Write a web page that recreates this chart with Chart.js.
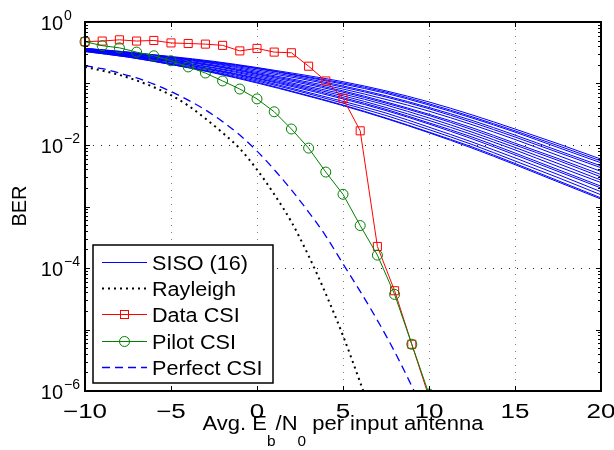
<!DOCTYPE html>
<html>
<head>
<meta charset="utf-8">
<script src="https://cdn.jsdelivr.net/npm/chart.js@4.4.0/dist/chart.umd.min.js"></script>
<style>
  html, body { margin: 0; padding: 0; background: #fff; }
  #wrap { width: 614px; height: 450px; }
</style>
</head>
<body>
<div id="wrap"><canvas id="berChart" width="614" height="450"></canvas></div>
<script>
// Eb/N0 points (dB)
const snrSiso = [-10, -7.5, -5, -2.5, 0, 2.5, 5, 7.5, 10, 12.5, 15, 17.5, 20];
const snrInt = [-10, -9, -8, -7, -6, -5, -4, -3, -2, -1, 0, 1, 2, 3, 4, 5, 6, 7, 8, 9, 10];
const snrRayleigh = [-10, -9, -8, -7, -6, -5, -4, -3, -2, -1, 0, 1, 2, 3, 4, 5, 6, 7];

// 16 single antenna links, BER
const sisoBer = [
  [0.372, 0.324, 0.275, 0.229, 0.182, 0.141, 0.107, 7.59e-2, 5.01e-2, 3.09e-2, 1.82e-2, 1.05e-2, 5.89e-3],
  [0.372, 0.324, 0.269, 0.224, 0.178, 0.135, 0.102, 7.24e-2, 4.68e-2, 2.88e-2, 1.70e-2, 9.77e-3, 5.50e-3],
  [0.372, 0.316, 0.269, 0.219, 0.174, 0.132, 9.77e-2, 6.92e-2, 4.47e-2, 2.75e-2, 1.62e-2, 9.12e-3, 5.13e-3],
  [0.363, 0.316, 0.263, 0.214, 0.166, 0.126, 9.12e-2, 6.31e-2, 4.07e-2, 2.51e-2, 1.45e-2, 8.13e-3, 4.57e-3],
  [0.363, 0.309, 0.257, 0.209, 0.158, 0.120, 8.71e-2, 6.03e-2, 3.89e-2, 2.34e-2, 1.35e-2, 7.59e-3, 4.27e-3],
  [0.355, 0.309, 0.251, 0.200, 0.151, 0.112, 8.13e-2, 5.50e-2, 3.55e-2, 2.14e-2, 1.23e-2, 6.76e-3, 3.72e-3],
  [0.355, 0.302, 0.245, 0.195, 0.145, 0.107, 7.59e-2, 5.01e-2, 3.16e-2, 1.91e-2, 1.07e-2, 6.03e-3, 3.31e-3],
  [0.355, 0.295, 0.240, 0.191, 0.141, 0.102, 7.24e-2, 4.79e-2, 3.02e-2, 1.78e-2, 1.00e-2, 5.62e-3, 3.02e-3],
  [0.347, 0.295, 0.234, 0.182, 0.135, 9.55e-2, 6.76e-2, 4.47e-2, 2.75e-2, 1.62e-2, 9.12e-3, 5.01e-3, 2.69e-3],
  [0.347, 0.288, 0.229, 0.178, 0.129, 9.12e-2, 6.31e-2, 4.07e-2, 2.51e-2, 1.48e-2, 8.32e-3, 4.47e-3, 2.45e-3],
  [0.347, 0.288, 0.224, 0.170, 0.123, 8.71e-2, 5.89e-2, 3.80e-2, 2.29e-2, 1.35e-2, 7.41e-3, 3.98e-3, 2.14e-3],
  [0.339, 0.282, 0.224, 0.166, 0.120, 8.32e-2, 5.62e-2, 3.63e-2, 2.19e-2, 1.26e-2, 6.92e-3, 3.72e-3, 2.00e-3],
  [0.339, 0.282, 0.214, 0.162, 0.115, 7.76e-2, 5.13e-2, 3.31e-2, 1.95e-2, 1.12e-2, 6.17e-3, 3.31e-3, 1.74e-3],
  [0.339, 0.275, 0.209, 0.155, 0.110, 7.41e-2, 4.79e-2, 3.02e-2, 1.78e-2, 1.02e-2, 5.50e-3, 2.95e-3, 1.55e-3],
  [0.331, 0.269, 0.204, 0.151, 0.105, 6.92e-2, 4.47e-2, 2.75e-2, 1.62e-2, 9.33e-3, 5.01e-3, 2.63e-3, 1.38e-3],
  [0.331, 0.269, 0.204, 0.148, 0.102, 6.76e-2, 4.37e-2, 2.69e-2, 1.58e-2, 8.91e-3, 4.79e-3, 2.51e-3, 1.32e-3]
];
const rayleighBer = [0.186, 0.162, 0.138, 0.112, 8.71e-2, 6.46e-2, 4.37e-2, 2.69e-2, 1.58e-2, 8.71e-3,
  3.98e-3, 1.58e-3, 5.62e-4, 1.58e-4, 3.80e-5, 7.94e-6, 1.38e-6, 2.24e-7];
const dataCsiBer = [0.479, 0.490, 0.513, 0.490, 0.501, 0.457, 0.447, 0.437, 0.417, 0.339,
  0.372, 0.324, 0.316, 0.191, 0.110, 5.75e-2, 1.70e-2, 2.24e-4, 4.27e-5, 5.75e-6, 7.94e-7];
const pilotCsiBer = [0.479, 0.412, 0.380, 0.324, 0.282, 0.234, 0.186, 0.148, 0.110, 8.13e-2,
  5.62e-2, 3.47e-2, 1.82e-2, 8.91e-3, 3.63e-3, 1.58e-3, 4.90e-4, 1.62e-4, 3.72e-5, 5.75e-6, 8.91e-7];
const perfectCsiBer = [0.195, 0.174, 0.148, 0.123, 9.77e-2, 7.41e-2, 5.37e-2, 3.72e-2, 2.40e-2, 1.45e-2,
  7.94e-3, 3.98e-3, 1.86e-3, 8.13e-4, 3.31e-4, 1.17e-4, 4.17e-5, 1.41e-5, 4.37e-6, 1.20e-6, 3.16e-7];

const xTicks = [-10, -5, 0, 5, 10, 15, 20];
const xTickLabels = ['\u221210', '\u22125', '0', '5', '10', '15', '20'];
const yTicks = [1, 1e-2, 1e-4, 1e-6];
const yTickExps = ['0', '\u22122', '\u22124', '\u22126'];
const legendLabels = ['SISO (16)', 'Rayleigh', 'Data CSI', 'Pilot CSI', 'Perfect CSI'];

const FONT = '"Liberation Sans", Arial, Helvetica, sans-serif';
const toPts = (xs, ys) => xs.map((x, i) => ({ x: x, y: ys[i] }));
const clip = { left: 8, top: 0, right: 0, bottom: 0 };

const datasets = [];
sisoBer.forEach(row => {
  datasets.push({
    data: toPts(snrSiso, row), borderColor: '#0000ff', borderWidth: 1,
    cubicInterpolationMode: 'monotone', pointRadius: 0, order: 5, clip: clip
  });
});
datasets.push({
  data: toPts(snrRayleigh, rayleighBer), borderColor: '#000', borderWidth: 2,
  borderDash: [2, 4], cubicInterpolationMode: 'monotone', pointRadius: 0, order: 4, clip: clip
});
datasets.push({
  data: toPts(snrInt, dataCsiBer), borderColor: '#ff0000', borderWidth: 1,
  pointStyle: 'rect', pointRadius: 5.7, pointBorderColor: '#ff0000',
  pointBackgroundColor: 'rgba(0,0,0,0)', pointBorderWidth: 1, order: 3, clip: clip
});
datasets.push({
  data: toPts(snrInt, pilotCsiBer), borderColor: '#008000', borderWidth: 1,
  pointStyle: 'circle', pointRadius: 5, pointBorderColor: '#008000',
  pointBackgroundColor: 'rgba(0,0,0,0)', pointBorderWidth: 1, order: 2, clip: clip
});
datasets.push({
  data: toPts(snrInt, perfectCsiBer), borderColor: '#0000ff', borderWidth: 1.3,
  borderDash: [8, 5], cubicInterpolationMode: 'monotone', pointRadius: 0, order: 1, clip: clip
});

function wideText(ctx, str, x, y, sx, align) {
  ctx.save();
  ctx.translate(x, y);
  ctx.scale(sx, 1);
  ctx.textAlign = align;
  ctx.fillText(str, 0, 0);
  ctx.restore();
}

const frame = {
  id: 'frame',
  beforeDatasetsDraw(chart) {
    const { ctx, chartArea: a, scales: { x, y } } = chart;
    ctx.save();
    ctx.lineWidth = 1;
    ctx.strokeStyle = '#808080';
    ctx.setLineDash([1, 6]);
    xTicks.slice(1, -1).forEach(v => {
      const px = Math.round(x.getPixelForValue(v)) + 0.5;
      ctx.beginPath(); ctx.moveTo(px, a.top); ctx.lineTo(px, a.bottom); ctx.stroke();
    });
    ctx.strokeStyle = '#202020';
    ctx.setLineDash([1, 7]);
    yTicks.slice(1, -1).forEach(v => {
      const py = Math.round(y.getPixelForValue(v)) + 0.5;
      ctx.beginPath(); ctx.moveTo(a.left, py); ctx.lineTo(a.right, py); ctx.stroke();
    });
    ctx.restore();
  },
  afterDatasetsDraw(chart) {
    const { ctx, chartArea: a, scales: { x, y } } = chart;
    ctx.save();
    ctx.strokeStyle = '#000';
    ctx.fillStyle = '#000';

    // axis ticks
    ctx.lineWidth = 1;
    ctx.beginPath();
    xTicks.forEach(v => {
      const px = Math.round(x.getPixelForValue(v)) + 0.5;
      ctx.moveTo(px, a.bottom); ctx.lineTo(px, a.bottom - 5);
      ctx.moveTo(px, a.top); ctx.lineTo(px, a.top + 5);
    });
    for (let d = -6; d <= 0; d++) {
      for (let m = 1; m <= 9; m++) {
        const v = m * Math.pow(10, d);
        if (v > 1) break;
        const py = Math.round(y.getPixelForValue(v)) + 0.5;
        const len = m === 1 ? 5 : 3;
        ctx.moveTo(a.left, py); ctx.lineTo(a.left + len, py);
        ctx.moveTo(a.right, py); ctx.lineTo(a.right - len, py);
      }
    }
    ctx.stroke();

    // axis box
    ctx.lineWidth = 2;
    ctx.strokeRect(a.left, a.top, a.right - a.left, a.bottom - a.top);

    // x tick labels
    ctx.font = '20px ' + FONT;
    ctx.textBaseline = 'alphabetic';
    xTicks.forEach((v, i) => {
      wideText(ctx, xTickLabels[i], x.getPixelForValue(v), 418, 1.3, 'center');
    });

    // y tick labels, 10 with superscript exponent
    yTicks.forEach((v, i) => {
      const py = y.getPixelForValue(v);
      ctx.font = '20px ' + FONT;
      ctx.textAlign = 'right';
      ctx.fillText('10', 63, py + 8);
      ctx.font = '14px ' + FONT;
      ctx.textAlign = 'left';
      ctx.fillText(yTickExps[i], 64, py - 2);
    });

    // y title
    ctx.save();
    ctx.translate(26, (a.top + a.bottom) / 2 - 0.5);
    ctx.rotate(-Math.PI / 2);
    ctx.font = '20px ' + FONT;
    ctx.textAlign = 'center';
    ctx.fillText('BER', 0, 0);
    ctx.restore();

    // x title with subscripts
    const parts = [['Avg. E', 0], ['b', 1], ['/N', 0], ['0', 1], [' per input antenna', 0]];
    const sx = 1.1;
    let total = 0;
    parts.forEach(p => {
      ctx.font = (p[1] ? '14px ' : '20px ') + FONT;
      total += ctx.measureText(p[0]).width * sx;
    });
    let cx = (a.left + a.right) / 2 - total / 2;
    parts.forEach(p => {
      ctx.font = (p[1] ? '14px ' : '20px ') + FONT;
      wideText(ctx, p[0], cx, p[1] ? 446 : 430, sx, 'left');
      cx += ctx.measureText(p[0]).width * sx;
    });

    // legend
    const lx = 93, ly = 245, lw = 180, lh = 138;
    ctx.fillStyle = '#fff';
    ctx.fillRect(lx, ly, lw, lh);
    ctx.lineWidth = 1.5;
    ctx.strokeStyle = '#000';
    ctx.strokeRect(lx, ly, lw, lh);
    const styles = [
      { c: '#0000ff', w: 1, dash: [] },
      { c: '#000', w: 2, dash: [2, 4] },
      { c: '#ff0000', w: 1, dash: [], mark: 'rect' },
      { c: '#008000', w: 1, dash: [], mark: 'circle' },
      { c: '#0000ff', w: 1.3, dash: [8, 5] }
    ];
    legendLabels.forEach((lab, i) => {
      const ry = Math.round(262 + i * 26.2) + 0.5;
      const s = styles[i];
      ctx.strokeStyle = s.c;
      ctx.lineWidth = s.w;
      ctx.setLineDash(s.dash);
      ctx.beginPath(); ctx.moveTo(102, ry); ctx.lineTo(147, ry); ctx.stroke();
      ctx.setLineDash([]);
      if (s.mark === 'rect') {
        ctx.strokeRect(120.5, ry - 4, 8, 8);
      } else if (s.mark === 'circle') {
        ctx.beginPath(); ctx.arc(124.5, ry, 5, 0, Math.PI * 2); ctx.stroke();
      }
      ctx.fillStyle = '#000';
      ctx.font = '20px ' + FONT;
      wideText(ctx, lab, 152, ry + 7, 1.08, 'left');
    });
    ctx.restore();
  }
};

new Chart(document.getElementById('berChart'), {
  type: 'line',
  data: { datasets: datasets },
  options: {
    responsive: false,
    animation: false,
    devicePixelRatio: 1,
    layout: { padding: { left: 85, top: 22, right: 13, bottom: 59 } },
    elements: { line: { tension: 0, fill: false } },
    plugins: { legend: { display: false }, tooltip: { enabled: false } },
    scales: {
      x: { type: 'linear', min: -10, max: 20, display: false },
      y: { type: 'logarithmic', min: 1e-6, max: 1, display: false }
    }
  },
  plugins: [frame]
});
</script>
</body>
</html>
